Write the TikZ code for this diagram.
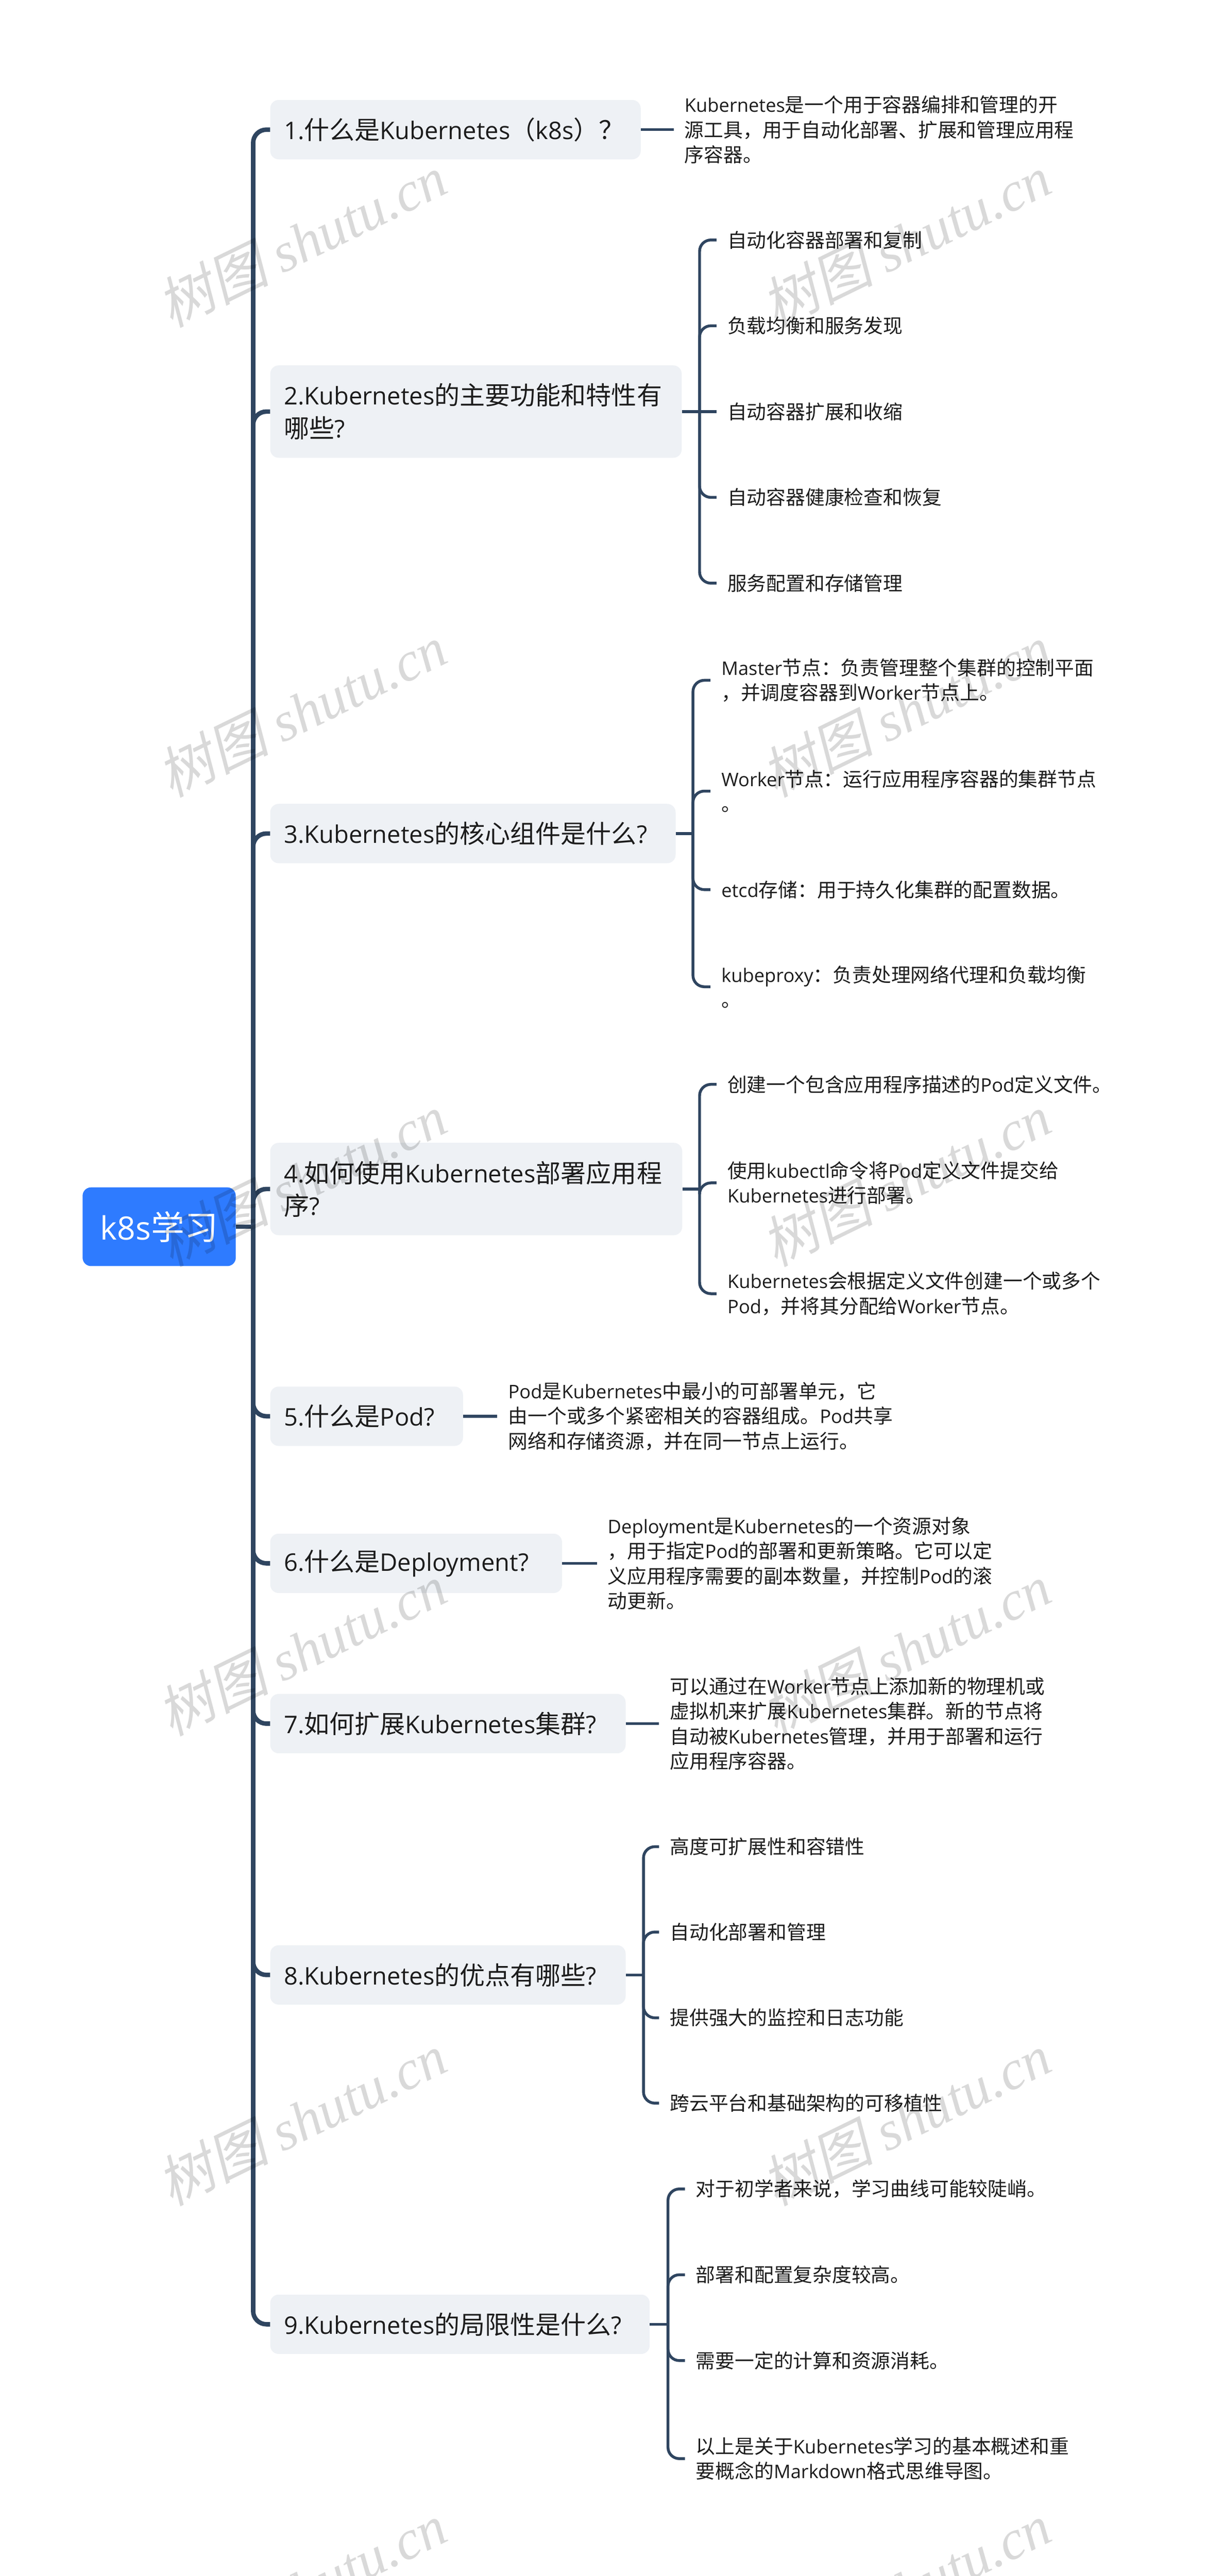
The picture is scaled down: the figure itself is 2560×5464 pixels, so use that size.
\documentclass[tikz,border=0pt]{standalone}
\usepackage{fontspec}
\usepackage{xcolor}
\setmainfont{Noto Sans CJK SC}
\newfontfamily\latinfont[Scale=0.96]{Open Sans}
\newfontfamily\wmcjk[FakeSlant=0.2]{Noto Sans CJK SC}
\newfontfamily\wmlatin{Liberation Serif}
\newcommand{\la}[1]{{\latinfont #1}}
\newcommand{\kub}{\la{Kubernetes}}
\definecolor{myblue}{HTML}{2E7BFF}
\definecolor{mygrey}{HTML}{EEF1F5}
\definecolor{myline}{HTML}{2F4560}
\definecolor{myink}{HTML}{1C1C1C}
\begin{document}
\begin{tikzpicture}[x = 1pt, y = -1pt,
	th/.style = {line width = 9.5pt, color = myline, rounded corners = 28pt},
	tn/.style = {line width = 6pt, color = myline, rounded corners = 24pt},
	rootbox/.style = {anchor = west, fill = myblue, text = white, rounded corners = 18pt, minimum width = 325pt, minimum height = 167pt, inner sep = 0pt, font = \fontsize{71}{84}\selectfont},
	qbox/.style = {anchor = west, fill = mygrey, text = myink, rounded corners = 18pt, text width = #1, minimum height = 126pt, inner xsep = 29pt, inner ysep = 0pt, align = left, font = \fontsize{53.6}{69}\selectfont},
	leaf/.style = {anchor = west, text = myink, inner xsep = 23pt, inner ysep = 0pt, align = left, font = \fontsize{41.3}{53}\selectfont},
	wm/.style = {rotate = 26, text = black, opacity = 0.15, font = \fontsize{118}{122}\selectfont}]
	\useasboundingbox (0,0) rectangle (2560,5464);
	\node[rootbox] (root) at (175,2602) {\la{k8s}学习};
	\node[qbox = 728pt] (q1) at (573,275) {\la{1.}什么是\kub（\la{k8s}）？};
	\node[qbox = 815pt, minimum height = 196pt] (q2) at (573,873) {\la{2.Kubernetes}的主要功能和特性有\\哪些\la{?}};
	\node[qbox = 802pt] (q3) at (573,1768) {\la{3.Kubernetes}的核心组件是什么\la{?}};
	\node[qbox = 816pt, minimum height = 196pt] (q4) at (573,2522) {\la{4.}如何使用\kub 部署应用程\\序\la{?}};
	\node[qbox = 351pt] (q5) at (573,3004) {\la{5.}什么是\la{Pod?}};
	\node[qbox = 561pt] (q6) at (573,3316) {\la{6.}什么是\la{Deployment?}};
	\node[qbox = 696pt] (q7) at (573,3656) {\la{7.}如何扩展\kub 集群\la{?}};
	\node[qbox = 696pt] (q8) at (573,4189) {\la{8.Kubernetes}的优点有哪些\la{?}};
	\node[qbox = 747pt] (q9) at (573,4930) {\la{9.Kubernetes}的局限性是什么\la{?}};
	\node[leaf] (a11) at (1429,275) {\kub 是一个用于容器编排和管理的开\\源工具，用于自动化部署、扩展和管理应用程\\序容器。};
	\node[leaf] (a21) at (1520,509) {自动化容器部署和复制};
	\node[leaf] (a22) at (1520,691) {负载均衡和服务发现};
	\node[leaf] (a23) at (1520,873) {自动容器扩展和收缩};
	\node[leaf] (a24) at (1520,1055) {自动容器健康检查和恢复};
	\node[leaf] (a25) at (1520,1237) {服务配置和存储管理};
	\node[leaf] (a31) at (1507,1443) {\la{Master}节点：负责管理整个集群的控制平面\\，并调度容器到\la{Worker}节点上。};
	\node[leaf] (a32) at (1507,1678) {\la{Worker}节点：运行应用程序容器的集群节点\\。};
	\node[leaf] (a33) at (1507,1887) {\la{etcd}存储：用于持久化集群的配置数据。};
	\node[leaf] (a34) at (1507,2093) {\la{kubeproxy}：负责处理网络代理和负载均衡\\。};
	\node[leaf] (a41) at (1520,2300) {创建一个包含应用程序描述的\la{Pod}定义文件。};
	\node[leaf] (a42) at (1520,2509) {使用\la{kubectl}命令将\la{Pod}定义文件提交给\\\kub 进行部署。};
	\node[leaf] (a43) at (1520,2744) {\kub 会根据定义文件创建一个或多个\\\la{Pod}，并将其分配给\la{Worker}节点。};
	\node[leaf] (a51) at (1055,3004) {\la{Pod}是\kub 中最小的可部署单元，它\\由一个或多个紧密相关的容器组成。\la{Pod}共享\\网络和存储资源，并在同一节点上运行。};
	\node[leaf] (a61) at (1266,3316) {\la{Deployment}是\kub 的一个资源对象\\，用于指定\la{Pod}的部署和更新策略。它可以定\\义应用程序需要的副本数量，并控制\la{Pod}的滚\\动更新。};
	\node[leaf] (a71) at (1398,3656) {可以通过在\la{Worker}节点上添加新的物理机或\\虚拟机来扩展\kub 集群。新的节点将\\自动被\kub 管理，并用于部署和运行\\应用程序容器。};
	\node[leaf] (a81) at (1398,3917) {高度可扩展性和容错性};
	\node[leaf] (a82) at (1398,4098) {自动化部署和管理};
	\node[leaf] (a83) at (1398,4280) {提供强大的监控和日志功能};
	\node[leaf] (a84) at (1398,4461) {跨云平台和基础架构的可移植性};
	\node[leaf] (a91) at (1453,4643) {对于初学者来说，学习曲线可能较陡峭。};
	\node[leaf] (a92) at (1453,4825) {部署和配置复杂度较高。};
	\node[leaf] (a93) at (1453,5007) {需要一定的计算和资源消耗。};
	\node[leaf] (a94) at (1453,5215) {以上是关于\kub 学习的基本概述和重\\要概念的\la{Markdown}格式思维导图。};
	\coordinate (j0) at (537,2602);
	\coordinate (j2) at (1484,873);
	\coordinate (j3) at (1470,1768);
	\coordinate (j4) at (1484,2522);
	\coordinate (j8) at (1365,4189);
	\coordinate (j9) at (1417,4930);
	\draw[th] (root.east) -- (j0);
	\draw[th] (j0) |- (q1.west);
	\draw[th] (j0) |- (q2.west);
	\draw[th] (j0) |- (q3.west);
	\draw[th] (j0) |- (q4.west);
	\draw[th] (j0) |- (q5.west);
	\draw[th] (j0) |- (q6.west);
	\draw[th] (j0) |- (q7.west);
	\draw[th] (j0) |- (q8.west);
	\draw[th] (j0) |- (q9.west);
	\draw[tn] (q1.east) -- (a11.west);
	\draw[tn] (q2.east) -- (j2);
	\draw[tn] (j2) |- (a21.west);
	\draw[tn] (j2) |- (a22.west);
	\draw[tn] (j2) -- (a23.west);
	\draw[tn] (j2) |- (a24.west);
	\draw[tn] (j2) |- (a25.west);
	\draw[tn] (q3.east) -- (j3);
	\draw[tn] (j3) |- (a31.west);
	\draw[tn] (j3) |- (a32.west);
	\draw[tn] (j3) |- (a33.west);
	\draw[tn] (j3) |- (a34.west);
	\draw[tn] (q4.east) -- (j4);
	\draw[tn] (j4) |- (a41.west);
	\draw[tn] (j4) |- (a42.west);
	\draw[tn] (j4) |- (a43.west);
	\draw[tn] (q5.east) -- (a51.west);
	\draw[tn] (q6.east) -- (a61.west);
	\draw[tn] (q7.east) -- (a71.west);
	\draw[tn] (q8.east) -- (j8);
	\draw[tn] (j8) |- (a81.west);
	\draw[tn] (j8) |- (a82.west);
	\draw[tn] (j8) |- (a83.west);
	\draw[tn] (j8) |- (a84.west);
	\draw[tn] (q9.east) -- (j9);
	\draw[tn] (j9) |- (a91.west);
	\draw[tn] (j9) |- (a92.west);
	\draw[tn] (j9) |- (a93.west);
	\draw[tn] (j9) |- (a94.west);
	\foreach \r/\y in {1/511, 2/1507, 3/2503, 4/3499, 5/4495, 6/5491} {
		\node[wm] (wl\r) at (640,\y) {{\wmcjk 树图} {\wmlatin\itshape shutu.cn}};
		\node[wm] (wr\r) at (1922,\y) {{\wmcjk 树图} {\wmlatin\itshape shutu.cn}};
	}
\end{tikzpicture}
\end{document}
